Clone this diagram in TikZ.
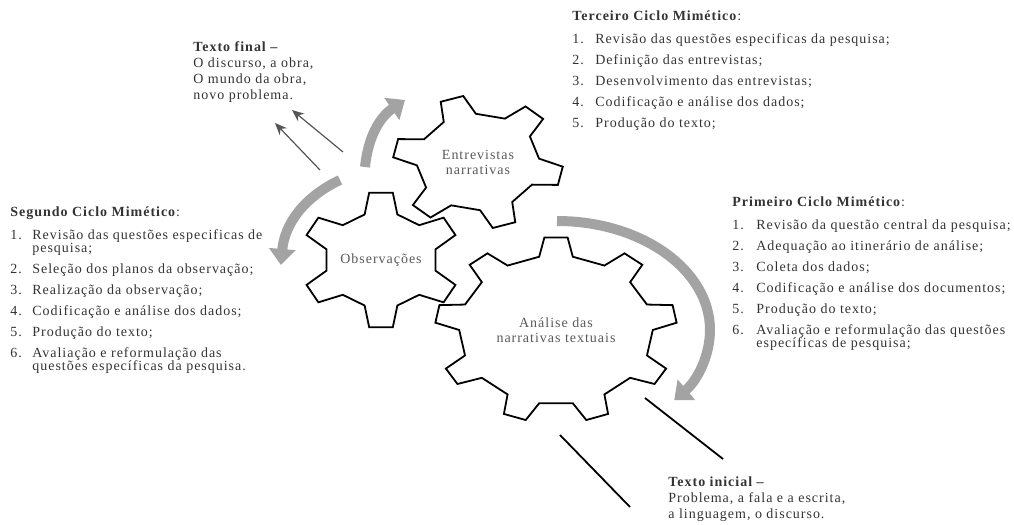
\documentclass[tikz,border=0pt]{standalone}
\usepackage{fontspec}
\setmainfont{Liberation Serif}[LetterSpace=7]
\usetikzlibrary{arrows.meta,calc}

\definecolor{setacinza}{HTML}{A3A3A3}
\definecolor{texto}{HTML}{333333}
\definecolor{fio}{HTML}{555555}

\newcommand{\fonteciclo}{\fontsize{7}{7.5}\selectfont}

% centro, rx, ry, dentes, rotacao, fator da raiz, meia ponta, meia base
\newcommand{\engrenagem}[8]{%
  \begin{scope}[shift={(#1)}]
    \pgfmathsetmacro{\passo}{360/#4}
    \pgfmathtruncatemacro{\ultimo}{#4-1}
    \draw[engr] ({#5-#8}:{#2*#6} and {#3*#6})
      foreach \k [evaluate=\k as \a using #5+\k*\passo] in {0,...,\ultimo} {
        -- ({\a-#8}:{#2*#6} and {#3*#6}) -- ({\a-#7}:#2 and #3)
        -- ({\a+#7}:#2 and #3) -- ({\a+#8}:{#2*#6} and {#3*#6})
      } -- cycle;
  \end{scope}}

\tikzset{
  engr/.style={draw=black,fill=white,line width=0.9pt},
  rotulo/.style={font=\fonteciclo,text=black!65,align=center,inner sep=0pt},
  bloco/.style={anchor=base west,inner sep=0pt,font=\fonteciclo,text=texto},
  setagrossa/.style={draw=setacinza,line width=5pt,-{Triangle[width=13pt,length=8pt]}},
  setafina/.style={draw=fio,line width=0.6pt,-{Stealth[length=6pt,width=5pt]}},
  traco/.style={draw=black,line width=0.9pt}
}

\begin{document}
\begin{tikzpicture}[x=0.5pt,y=0.5pt]
    \useasboundingbox (0,0) rectangle (1014,525);

    % engrenagens
    \coordinate (cEntr) at (478,363);
    \coordinate (cObs) at (381,265);
    \coordinate (cAnal) at (556,195);

    \engrenagem{cEntr}{85}{67}{6}{108}{0.72}{8}{16}
    \engrenagem{cObs}{80}{68}{6}{90}{0.70}{8.5}{17}
    \engrenagem{cAnal}{121}{93}{9}{90}{0.80}{5.5}{10}

    \node[rotulo] (entrevistas) at (cEntr) {Entrevistas\\narrativas};
    \node[rotulo] (observacoes) at (cObs) {Observações};
    \node[rotulo] (analise) at (cAnal) {Análise das\\narrativas textuais};

    % setas cinzentas
    \coordinate (s1a) at (365,358);
    \coordinate (s1b) at (405,425);
    \coordinate (s2a) at (340,345);
    \coordinate (s2b) at (281,260);
    \coordinate (s3a) at (557,304);

    \draw[setagrossa] (s1a) to[bend left=25] (s1b);
    \draw[setagrossa] (s2a) to[bend right=30] (s2b);
    \draw[setagrossa] (s3a) arc[start angle=90,end angle=-40,x radius=153,y radius=109];

    % setas finas do texto final
    \coordinate (f1a) at (343,373);
    \coordinate (f1b) at (292,415);
    \coordinate (f2a) at (320,355);
    \coordinate (f2b) at (275,402);
    \draw[setafina] (f1a) -- (f1b);
    \draw[setafina] (f2a) -- (f2b);

    % tracos do texto inicial
    \coordinate (t1a) at (645,127);
    \coordinate (t1b) at (723,66);
    \coordinate (t2a) at (560,90);
    \coordinate (t2b) at (630,18);
    \draw[traco] (t1a) -- (t1b);
    \draw[traco] (t2a) -- (t2b);

    % textos
    \node[bloco] (textofinal) at (193,473) {\begin{tabular}[t]{@{}l@{}}
        \textbf{Texto final –}\\[0.5pt]
        O discurso, a obra,\\[0.5pt]
        O mundo da obra,\\[0.5pt]
        novo problema.
    \end{tabular}};

    \node[bloco] (terceiro) at (572,504) {\begin{tabular}[t]{@{}p{11.5pt}@{}l@{}}
        \multicolumn{2}{@{}l@{}}{\textbf{Terceiro Ciclo Mimético}:}\\[4pt]
        1. & Revisão das questões especificas da pesquisa;\\[3pt]
        2. & Definição das entrevistas;\\[3pt]
        3. & Desenvolvimento das entrevistas;\\[3pt]
        4. & Codificação e análise dos dados;\\[3pt]
        5. & Produção do texto;
    \end{tabular}};

    \node[bloco] (segundo) at (10,308) {\begin{tabular}[t]{@{}p{11pt}@{}l@{}}
        \multicolumn{2}{@{}l@{}}{\textbf{Segundo Ciclo Mimético}:}\\[4pt]
        1. & Revisão das questões especificas de\\[-1pt]
           & pesquisa;\\[3pt]
        2. & Seleção dos planos da observação;\\[3pt]
        3. & Realização da observação;\\[3pt]
        4. & Codificação e análise dos dados;\\[3pt]
        5. & Produção do texto;\\[3pt]
        6. & Avaliação e reformulação das\\[-1pt]
           & questões específicas da pesquisa.
    \end{tabular}};

    \node[bloco] (primeiro) at (732,318) {\begin{tabular}[t]{@{}p{12pt}@{}l@{}}
        \multicolumn{2}{@{}l@{}}{\textbf{Primeiro Ciclo Mimético}:}\\[4pt]
        1. & Revisão da questão central da pesquisa;\\[3pt]
        2. & Adequação ao itinerário de análise;\\[3pt]
        3. & Coleta dos dados;\\[3pt]
        4. & Codificação e análise dos documentos;\\[3pt]
        5. & Produção do texto;\\[3pt]
        6. & Avaliação e reformulação das questões\\[-1pt]
           & específicas de pesquisa;
    \end{tabular}};

    \node[bloco] (textoinicial) at (668,38) {\begin{tabular}[t]{@{}l@{}}
        \textbf{Texto inicial –}\\[0.5pt]
        Problema, a fala e a escrita,\\[0.5pt]
        a linguagem, o discurso.
    \end{tabular}};
\end{tikzpicture}
\end{document}
